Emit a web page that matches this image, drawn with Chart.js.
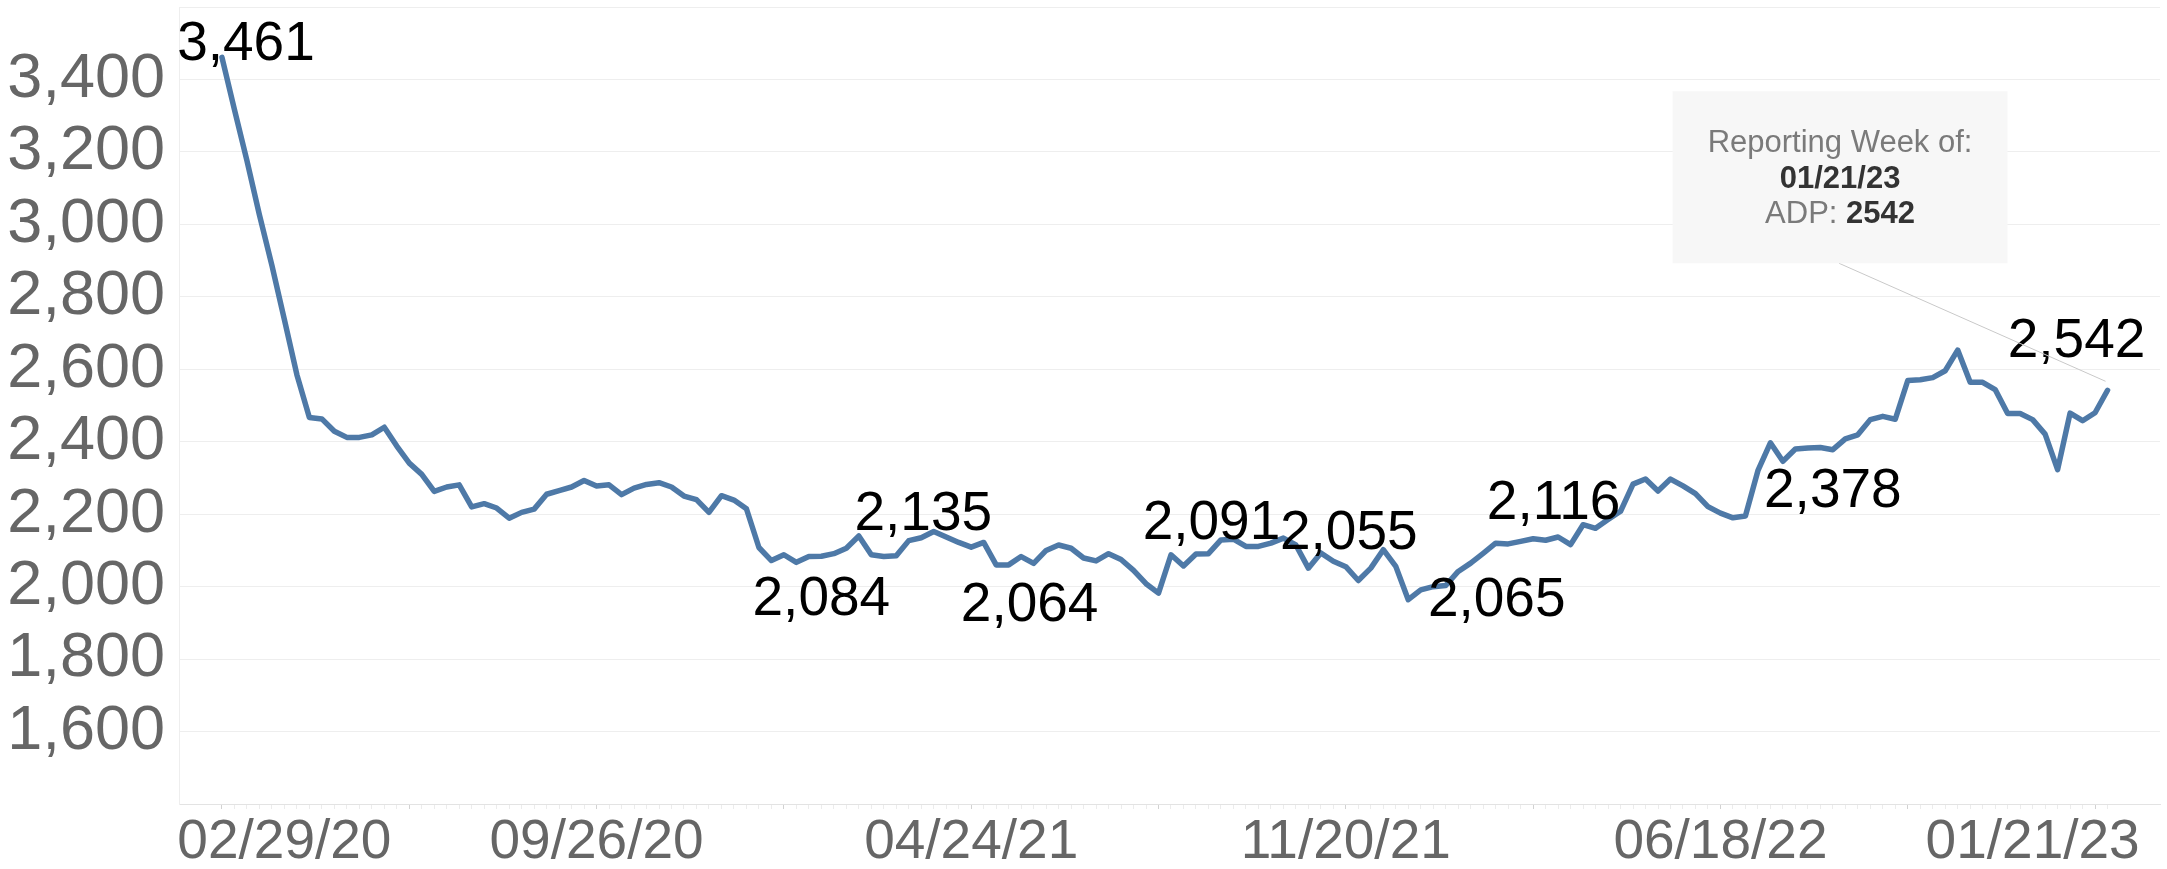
<!DOCTYPE html>
<html>
<head>
<meta charset="utf-8">
<script src="https://cdn.jsdelivr.net/npm/chart.js@4/dist/chart.umd.min.js"></script>
<style>
  html, body { margin: 0; padding: 0; background: #ffffff; }
  #wrap { width: 2167px; height: 869px; position: relative; }
</style>
</head>
<body>
<div id="wrap"><canvas id="c" width="2167" height="869"></canvas></div>
<script>
// ---------------- data ----------------
// weekly ADP, reporting weeks 02/29/20 ... 01/21/23 (week index 0..151)
const adpValues = [
  3461, 3317, 3176, 3026, 2887, 2737, 2585, 2467, 2463, 2429,
  2412, 2412, 2419, 2440, 2388, 2341, 2310, 2263, 2275, 2281,
  2220, 2229, 2217, 2189, 2205, 2214, 2255, 2265, 2275, 2293,
  2278, 2281, 2254, 2272, 2282, 2287, 2275, 2250, 2240, 2205,
  2251, 2239, 2215, 2108, 2072, 2088, 2067, 2083, 2084, 2091,
  2106, 2140, 2088, 2083, 2085, 2127, 2135, 2152, 2137, 2122,
  2109, 2122, 2060, 2060, 2083, 2064, 2100, 2115, 2106, 2079,
  2071, 2091, 2075, 2045, 2008, 1982, 2088, 2057, 2090, 2091,
  2129, 2131, 2111, 2111, 2120, 2134, 2115, 2051, 2093, 2070,
  2055, 2017, 2051, 2102, 2056, 1964, 1991, 2000, 2003, 2042,
  2065, 2092, 2120, 2118, 2125, 2132, 2128, 2137, 2116, 2171,
  2161, 2185, 2208, 2283, 2297, 2264, 2297, 2278, 2257, 2221,
  2203, 2190, 2195, 2320, 2397, 2346, 2380, 2383, 2384, 2378,
  2408, 2419, 2461, 2470, 2462, 2569, 2571, 2577, 2596, 2653,
  2564, 2564, 2544, 2478, 2478, 2461, 2421, 2323, 2479, 2458,
  2480, 2542
];
const xTickLabels = ['02/29/20', '09/26/20', '04/24/21', '11/20/21', '06/18/22', '01/21/23'];
const xTickWeeks  = [0, 30, 60, 90, 120, 151];
const labeledWeeks = [0, 48, 56, 65, 79, 90, 100, 108, 129, 151];
const yMin = 1400, yMax = 3600, yStep = 200;

// ---------------- style ----------------
const FONT = "'Liberation Sans', Arial, sans-serif";
const LINE_COLOR = '#4e79a7';
// pixel offsets of each mark label centre from its point
const labelOffsets = [[24,-17],[0,39],[2,-27],[-4,38],[3,-34],[3,-37],[26,33],[-17,-45],[0,38],[-31,-53]];
// Tableau nudges the first/last axis label inward (in weeks)
const xLabelShift = [5, 0, 0, 0, 0, -6];

const labelAtTick = {};
xTickWeeks.forEach((w, k) => { labelAtTick[w + xLabelShift[k]] = xTickLabels[k]; });

const points = adpValues.map((v, i) => ({ x: i, y: v }));
const fmt = n => n.toLocaleString('en-US');

const markLabels = {
  id: 'markLabels',
  afterDatasetsDraw(chart) {
    const meta = chart.getDatasetMeta(0);
    const ctx = chart.ctx;
    ctx.save();
    const size = 55;
    ctx.font = size + 'px ' + FONT;
    ctx.fillStyle = '#000000';
    ctx.textAlign = 'center';
    ctx.textBaseline = 'alphabetic';
    labeledWeeks.forEach((w, k) => {
      const el = meta.data[w];
      const [dx, dy] = labelOffsets[k];
      ctx.fillText(fmt(adpValues[w]), el.x + dx, el.y + dy + 0.358 * size);
    });
    ctx.restore();
  }
};

const tipBox = {
  id: 'tipBox',
  afterDraw(chart) {
    const meta = chart.getDatasetMeta(0);
    const last = meta.data[meta.data.length - 1];
    const ctx = chart.ctx;
    const bx = last.x - 435, by = last.y - 299, bw = 335, bh = 172;
    ctx.save();
    // leader line
    ctx.strokeStyle = '#c9c9c9';
    ctx.lineWidth = 1;
    ctx.beginPath();
    ctx.moveTo(bx + bw / 2 - 1, by + bh);
    ctx.lineTo(last.x - 2, last.y - 9);
    ctx.stroke();
    // box
    ctx.fillStyle = 'rgba(247,247,247,0.97)';
    ctx.fillRect(bx, by, bw, bh);
    const cx = bx + bw / 2;
    ctx.textBaseline = 'alphabetic';
    ctx.textAlign = 'center';
    ctx.font = '31px ' + FONT;
    ctx.fillStyle = '#7a7a7a';
    ctx.fillText('Reporting Week of:', cx, by + 61);
    ctx.font = 'bold 31px ' + FONT;
    ctx.fillStyle = '#333333';
    ctx.fillText(xTickLabels[xTickLabels.length - 1], cx, by + 96.5);
    // "ADP: 2542" mixed weights
    const a = 'ADP: ', b = String(adpValues[adpValues.length - 1]);
    ctx.font = '31px ' + FONT;
    const wa = ctx.measureText(a).width;
    ctx.font = 'bold 31px ' + FONT;
    const wb = ctx.measureText(b).width;
    const sx = cx - (wa + wb) / 2;
    ctx.textAlign = 'left';
    ctx.font = '31px ' + FONT;
    ctx.fillStyle = '#7a7a7a';
    ctx.fillText(a, sx, by + 131.5);
    ctx.font = 'bold 31px ' + FONT;
    ctx.fillStyle = '#333333';
    ctx.fillText(b, sx + wa, by + 131.5);
    ctx.restore();
  }
};

new Chart(document.getElementById('c'), {
  type: 'line',
  data: {
    datasets: [{
      data: points,
      borderColor: LINE_COLOR,
      borderWidth: 5.5,
      pointRadius: 0,
      pointHoverRadius: 0,
      tension: 0,
      fill: false,
      borderJoinStyle: 'round',
      borderCapStyle: 'round'
    }]
  },
  options: {
    responsive: false,
    animation: false,
    devicePixelRatio: 1,
    events: [],
    layout: { padding: { top: 7, right: 7, left: 0, bottom: 0 } },
    plugins: { legend: { display: false }, tooltip: { enabled: false } },
    scales: {
      x: {
        type: 'linear',
        min: -3.44,
        max: 155.2,
        afterBuildTicks(scale) {
          const t = [];
          for (let i = 0; i < adpValues.length; i++) t.push({ value: i });
          scale.ticks = t;
        },
        afterFit(scale) {
          scale.height = 65;
          scale.paddingLeft = 0;
          scale.paddingRight = 0;
        },
        grid: {
          drawOnChartArea: false,
          drawTicks: true,
          tickLength: 5,
          tickColor: ctx => (ctx.tick && ctx.tick.value % 15 === 0) ? '#d2d2d2' : '#ececec',
          tickWidth: 1
        },
        border: { display: true, color: '#e3e3e3', width: 1 },
        ticks: {
          autoSkip: false,
          maxRotation: 0,
          minRotation: 0,
          padding: 1,
          color: '#666666',
          font: { family: FONT, size: 55 },
          callback: v => labelAtTick[v] || ''
        }
      },
      y: {
        type: 'linear',
        min: yMin,
        max: yMax,
        afterFit(scale) {
          scale.width = 179;
          scale.paddingTop = 0;
          scale.paddingBottom = 0;
        },
        grid: { color: '#eeeeee', lineWidth: 1, drawTicks: false },
        border: { display: true, color: '#eeeeee', width: 1 },
        ticks: {
          stepSize: yStep,
          autoSkip: false,
          padding: 14,
          color: '#666666',
          font: { family: FONT, size: 63 },
          callback: v => (v === yMin || v === yMax) ? '' : fmt(v)
        }
      }
    }
  },
  plugins: [markLabels, tipBox]
});
</script>
</body>
</html>
